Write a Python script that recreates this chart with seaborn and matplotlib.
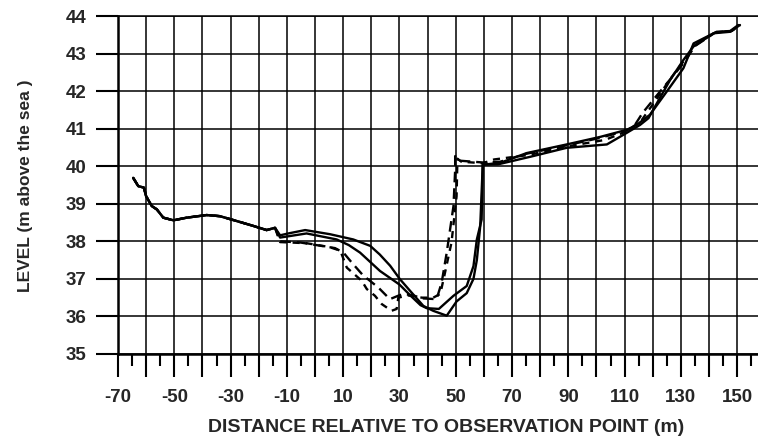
import matplotlib
matplotlib.use("Agg")
import matplotlib.pyplot as plt
import seaborn as sns
import pandas as pd
from matplotlib.ticker import MultipleLocator, FuncFormatter

# ---------------- data ----------------
left_x = [-64.6, -62.8, -60.8, -60.0, -58.0, -56.2, -53.9, -50.3, -45.6,
          -38.5, -33.8, -27.8, -21.9, -17.2, -14.2]
left_y = [39.69, 39.47, 39.43, 39.20, 38.94, 38.85, 38.63, 38.56, 38.63,
          38.70, 38.67, 38.54, 38.41, 38.30, 38.36]

# solid profile 1 (deepest point at ~47 m)
s1_x = left_x + [-12.4, -9.5, -3.5, 5.3, 13.6, 19.6, 23.0, 26.7, 30.2, 33.8,
                 38.5, 42.0, 46.8, 50.3, 53.9, 56.3, 57.5, 58.7, 59.6,
                 65.8, 75.2, 89.4, 101.3, 110.8, 114.3, 119.0, 125.0, 130.9,
                 134.5, 142.7, 147.5, 150.4]
s1_y = left_y + [38.16, 38.21, 38.30, 38.19, 38.05, 37.88, 37.65, 37.35, 36.99, 36.68,
                 36.28, 36.15, 36.02, 36.40, 36.62, 37.00, 37.50, 38.40, 40.04,
                 40.09, 40.35, 40.58, 40.78, 40.97, 41.10, 41.37, 41.99, 42.61,
                 43.27, 43.58, 43.60, 43.76]

# solid profile 2
s2_x = left_x + [-12.4, -3.0, 7.7, 12.0, 16.0, 23.1, 30.0, 34.0, 37.5, 39.7,
                 44.0, 49.2, 53.9, 56.3, 57.5, 59.2, 59.6,
                 65.0, 76.4, 89.4, 103.7, 110.8, 115.5, 118.5, 121.5, 126.2,
                 130.9, 134.5, 141.6, 147.5, 151.0]
s2_y = left_y + [38.10, 38.21, 38.05, 37.90, 37.70, 37.21, 36.85, 36.55, 36.30, 36.22,
                 36.20, 36.55, 36.81, 37.34, 38.05, 38.58, 40.04,
                 40.05, 40.25, 40.49, 40.58, 40.89, 41.10, 41.28, 41.68, 42.30,
                 42.83, 43.19, 43.54, 43.58, 43.76]

# dashed profile 1 (long dashes)
d1_x = left_x + [-12.4, -5.3, 7.1, 10.1, 13.0, 17.0, 22.5, 26.6, 29.5, 31.4, 34.3,
                 38.5, 43.2, 45.0, 46.8, 49.2, 49.8, 49.8, 51.0, 59.6,
                 65.8, 75.0, 89.0, 101.0, 110.8, 113.5, 116.4, 121.4, 125.5,
                 131.0, 135.0, 142.0, 148.0, 151.0]
d1_y = left_y + [38.00, 37.97, 37.82, 37.70, 37.44, 37.10, 36.77, 36.46, 36.55, 36.60, 36.57,
                 36.48, 36.46, 36.90, 37.70, 38.94, 39.91, 40.27, 40.15, 40.10,
                 40.12, 40.33, 40.55, 40.75, 40.95, 41.08, 41.42, 41.88, 42.25,
                 42.75, 43.20, 43.55, 43.60, 43.76]

# dashed profile 2 (short dashes)
d2_x = left_x + [-12.4, -3.0, 5.0, 9.0, 11.3, 16.6, 18.4, 21.3, 23.7, 27.2, 29.0,
                 29.6, 33.0, 38.0, 42.0, 44.5, 46.0, 48.5, 50.3, 50.6, 52.0, 59.6,
                 63.6, 76.0, 89.0, 103.0, 110.8, 116.0, 121.0, 126.0, 131.0,
                 135.0, 142.0, 148.0, 151.0]
d2_y = left_y + [37.98, 37.95, 37.85, 37.75, 37.30, 36.95, 36.73, 36.55, 36.33, 36.15, 36.20,
                 36.50, 36.56, 36.50, 36.50, 36.60, 37.10, 37.97, 39.20, 40.20, 40.12, 40.08,
                 40.18, 40.30, 40.52, 40.70, 40.93, 41.22, 41.75, 42.30,
                 42.80, 43.22, 43.56, 43.60, 43.76]

x_label_values = [-70, -50, -30, -10, 10, 30, 50, 70, 90, 110, 130, 150]

# ---------------- figure ----------------
sns.set_theme(style="white")
plt.rcParams["font.family"] = ["Liberation Sans", "DejaVu Sans"]
plt.rcParams["font.weight"] = "bold"

fig = plt.figure(figsize=(7.58, 4.38), dpi=100)
ax = fig.add_axes([118 / 758, 84 / 438, 640 / 758, 338 / 438])

series = [
    (s1_x, s1_y, "-", None),
    (s2_x, s2_y, "-", None),
    (d1_x, d1_y, "--", [4.5, 2.5]),
    (d2_x, d2_y, "--", [3.0, 2.5]),
]
for xs, ys, ls, dash in series:
    df = pd.DataFrame({"x": xs, "y": ys})
    sns.lineplot(data=df, x="x", y="y", sort=False, estimator=None,
                 color="black", linewidth=1.7, linestyle=ls, ax=ax)
    if dash is not None:
        ax.lines[-1].set_dashes(dash)

ax.set_xlim(-70, 157.4)
ax.set_ylim(35, 44)

ax.xaxis.set_major_locator(MultipleLocator(10))
ax.xaxis.set_minor_locator(MultipleLocator(5))
ax.yaxis.set_major_locator(MultipleLocator(1))

ax.xaxis.set_major_formatter(FuncFormatter(
    lambda v, p: f"{int(round(v))}" if int(round(v)) in x_label_values else ""))
ax.yaxis.set_major_formatter(FuncFormatter(lambda v, p: f"{int(round(v))}"))

ax.grid(True, which="major", color="black", linewidth=1.1)
ax.set_axisbelow(True)

ax.spines["right"].set_visible(False)
ax.spines["top"].set_linewidth(1.1)
ax.spines["top"].set_color("black")
for side in ["left", "bottom"]:
    ax.spines[side].set_linewidth(1.8)
    ax.spines[side].set_color("black")

ax.tick_params(axis="x", which="major", direction="out", length=16.5, width=1.5,
               color="black", pad=9, labelsize=13.5, bottom=True)
ax.tick_params(axis="x", which="minor", direction="out", length=8.6, width=1.5,
               color="black", bottom=True)
ax.tick_params(axis="y", which="major", direction="out", length=15.8, width=1.5,
               color="black", pad=7, labelsize=13.5, left=True)
for lab in ax.get_xticklabels() + ax.get_yticklabels():
    lab.set_fontweight("bold")

ax.set_xlabel("DISTANCE RELATIVE TO OBSERVATION POINT (m)", fontsize=14,
              fontweight="bold")
ax.set_ylabel("LEVEL (m above the sea )", fontsize=12.5, fontweight="bold")
ax.xaxis.set_label_coords((446 - 118) / 640, -(419 - 354) / 338)
ax.yaxis.set_label_coords(-(118 - 33) / 640, (354 - 186) / 338)

fig.savefig("out.png", dpi=100)
